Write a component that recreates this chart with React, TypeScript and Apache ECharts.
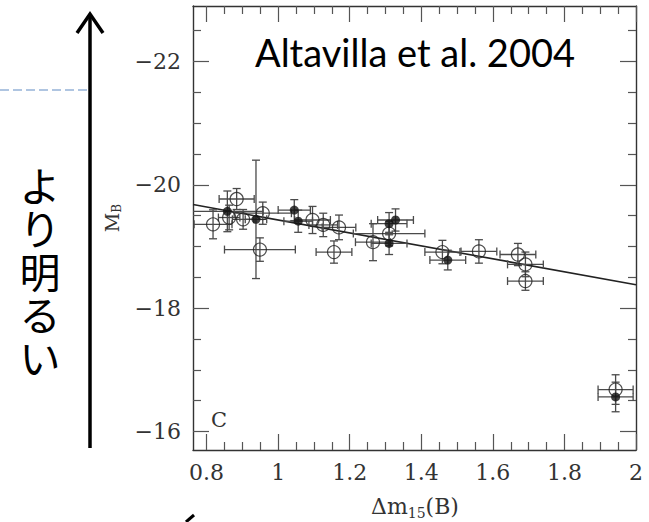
import React, { useEffect, useRef } from "react";
import * as echarts from "echarts";

// ---- data ----
// open circles: Δm15(B), M_B, errors
const openDm15 = [0.818, 0.863, 0.884, 0.902, 0.949, 0.957, 1.096, 1.126, 1.170, 1.156, 1.265, 1.310, 1.459, 1.561, 1.670, 1.691, 1.691, 1.943];
const openMB = [-19.36, -19.47, -19.77, -19.44, -18.95, -19.54, -19.43, -19.35, -19.31, -18.91, -19.07, -19.21, -18.91, -18.92, -18.87, -18.71, -18.44, -16.68];
const openDm15Err = [0.053, 0.03, 0.049, 0.03, 0.099, 0.08, 0.05, 0.04, 0.047, 0.05, 0.049, 0.1, 0.049, 0.05, 0.05, 0.05, 0.05, 0.049];
const openMBErr = [0.235, 0.2, 0.17, 0.16, 0.19, 0.18, 0.22, 0.19, 0.2, 0.18, 0.3, 0.2, 0.19, 0.19, 0.18, 0.2, 0.15, 0.24];

// filled circles
const filledDm15 = [0.858, 0.938, 1.045, 1.056, 1.310, 1.328, 1.310, 1.474, 1.943];
const filledMB = [-19.57, -19.44, -19.59, -19.41, -19.37, -19.43, -19.05, -18.78, -16.56];
const filledDm15Err = [0.1, 0.03, 0.045, 0.04, 0.05, 0.05, 0.05, 0.05, 0.049];
const filledMBErr = [0.33, 0.96, 0.17, 0.18, 0.18, 0.18, 0.18, 0.16, 0.24];

// fitted relation
const fitDm15 = [0.762, 2.0];
const fitMB = [-19.68, -18.38];

// ticks
const xMajor = [0.8, 1, 1.2, 1.4, 1.6, 1.8, 2];
const xMinor = [0.85, 0.9, 0.95, 1.05, 1.1, 1.15, 1.25, 1.3, 1.35, 1.45, 1.5, 1.55, 1.65, 1.7, 1.75, 1.85, 1.9, 1.95];
const yMajor = [-22, -20, -18, -16];
const yMinor = [-22.5, -21.5, -21, -20.5, -19.5, -19, -18.5, -17.5, -17, -16.5];

// side caption, one character per line
const sideChars = ["よ", "り", "明", "る", "い"];

const X_MIN = 0.762, X_MAX = 2.0;
const Y_MIN = -22.9, Y_MAX = -15.7;

const SERIF = "DejaVu Serif";
const TICK = "#555";
const FRAME = "#333";

function errItem(params: any, api: any) {
  const x = api.value(0), y = api.value(1), xe = api.value(2), ye = api.value(3);
  const style = { stroke: "#4a4a4a", lineWidth: 1.3, fill: "none" };
  const c = 4;
  const ch: any[] = [];
  if (xe > 0) {
    const l = api.coord([x - xe, y]);
    const r = api.coord([x + xe, y]);
    ch.push({ type: "line", shape: { x1: l[0], y1: l[1], x2: r[0], y2: r[1] }, style });
    ch.push({ type: "line", shape: { x1: l[0], y1: l[1] - c, x2: l[0], y2: l[1] + c }, style });
    ch.push({ type: "line", shape: { x1: r[0], y1: r[1] - c, x2: r[0], y2: r[1] + c }, style });
  }
  if (ye > 0) {
    const t = api.coord([x, y - ye]);
    const b = api.coord([x, y + ye]);
    ch.push({ type: "line", shape: { x1: t[0], y1: t[1], x2: b[0], y2: b[1] }, style });
    ch.push({ type: "line", shape: { x1: t[0] - c, y1: t[1], x2: t[0] + c, y2: t[1] }, style });
    ch.push({ type: "line", shape: { x1: b[0] - c, y1: b[1], x2: b[0] + c, y2: b[1] }, style });
  }
  return { type: "group", children: ch };
}

function xAx(position: string, values: number[], len: number, labels: boolean, line: boolean) {
  return {
    type: "value",
    position,
    min: X_MIN,
    max: X_MAX,
    axisLine: { show: line, onZero: false, lineStyle: { color: FRAME, width: 1.4 } },
    axisTick: { show: true, inside: true, length: len, customValues: values, lineStyle: { color: TICK, width: 1.2 } },
    axisLabel: labels
      ? {
          show: true,
          customValues: values,
          margin: 11,
          fontFamily: SERIF,
          fontSize: 22,
          color: "#333",
          formatter: (v: number) => String(v),
        }
      : { show: false },
    splitLine: { show: false },
  };
}

function yAx(position: string, values: number[], len: number, labels: boolean, line: boolean) {
  return {
    type: "value",
    position,
    inverse: true,
    min: Y_MIN,
    max: Y_MAX,
    axisLine: { show: line, onZero: false, lineStyle: { color: FRAME, width: 1.4 } },
    axisTick: { show: true, inside: true, length: len, customValues: values, lineStyle: { color: TICK, width: 1.2 } },
    axisLabel: labels
      ? {
          show: true,
          customValues: values,
          margin: 12,
          fontFamily: SERIF,
          fontSize: 22,
          color: "#333",
          formatter: (v: number) => (v < 0 ? "\u2212" + Math.abs(v) : String(v)),
        }
      : { show: false },
    splitLine: { show: false },
  };
}

export default function App() {
  const ref = useRef<HTMLDivElement>(null);
  useEffect(() => {
    if (!ref.current) return;
    const chart = echarts.init(ref.current, null, { renderer: "svg" });
    const openData = openDm15.map((x, i) => [x, openMB[i], openDm15Err[i], openMBErr[i]]);
    const filledData = filledDm15.map((x, i) => [x, filledMB[i], filledDm15Err[i], filledMBErr[i]]);
    const fitData = fitDm15.map((x, i) => [x, fitMB[i]]);
    const sideTexts = sideChars.map((ch, i) => ({
      type: "text",
      x: 40,
      y: 184 + i * 43,
      style: {
        text: ch,
        font: '41px "Noto Sans CJK JP"',
        align: "center",
        verticalAlign: "middle",
        fill: "#000",
      },
    }));
    chart.setOption({
      animation: false,
      backgroundColor: "#ffffff",
      grid: { left: 193, right: 13, top: 6, bottom: 72 },
      xAxis: [
        xAx("bottom", xMajor, 16, true, true),
        xAx("bottom", xMinor, 8, false, false),
        xAx("top", xMajor, 16, false, true),
        xAx("top", xMinor, 8, false, false),
      ],
      yAxis: [
        yAx("left", yMajor, 16, true, true),
        yAx("left", yMinor, 8, false, false),
        yAx("right", yMajor, 16, false, true),
        yAx("right", yMinor, 8, false, false),
      ],
      series: [
        {
          type: "line",
          data: fitData,
          symbol: "none",
          lineStyle: { color: "#222", width: 1.6 },
          z: 2,
        },
        {
          type: "custom",
          renderItem: errItem,
          data: openData,
          encode: { x: 0, y: 1 },
          clip: true,
          z: 3,
        },
        {
          type: "custom",
          renderItem: errItem,
          data: filledData,
          encode: { x: 0, y: 1 },
          clip: true,
          z: 3,
        },
        {
          type: "scatter",
          data: openData.map((d) => [d[0], d[1]]),
          symbol: "circle",
          symbolSize: 13,
          itemStyle: { color: "rgba(0,0,0,0)", borderColor: "#222", borderWidth: 1.2 },
          z: 4,
        },
        {
          type: "scatter",
          data: filledData.map((d) => [d[0], d[1]]),
          symbol: "circle",
          symbolSize: 9,
          itemStyle: { color: "#111" },
          z: 5,
        },
      ],
      graphic: [
        {
          type: "line",
          shape: { x1: 0, y1: 90, x2: 88, y2: 90 },
          style: { stroke: "#95B3D7", lineWidth: 1.5, lineDash: [9, 4] },
        },
        {
          type: "line",
          shape: { x1: 90, y1: 15, x2: 90, y2: 448 },
          style: { stroke: "#000", lineWidth: 3.5 },
        },
        {
          type: "polyline",
          shape: { points: [[77, 33], [90, 14], [103, 33]] },
          style: { stroke: "#000", lineWidth: 3.5, fill: "none" },
        },
        {
          type: "line",
          shape: { x1: 186, y1: 522, x2: 194, y2: 515 },
          style: { stroke: "#000", lineWidth: 3 },
        },
        ...sideTexts,
        {
          type: "text",
          x: 255,
          y: 52,
          style: {
            text: "Altavilla et al. 2004",
            font: "38px Lato",
            align: "left",
            verticalAlign: "middle",
            fill: "#000",
          },
        },
        {
          type: "text",
          x: 211,
          y: 420,
          style: {
            text: "C",
            font: '21px "DejaVu Serif"',
            align: "left",
            verticalAlign: "middle",
            fill: "#333",
          },
        },
        {
          type: "text",
          x: 415,
          y: 506,
          style: {
            text: "\u0394m{sub|15}(B)",
            font: '22px "DejaVu Serif"',
            align: "center",
            verticalAlign: "middle",
            fill: "#333",
            rich: {
              sub: { fontSize: 14, fontFamily: SERIF, verticalAlign: "bottom", padding: [13, 0, 0, 0], fill: "#333" },
            },
          },
        },
        {
          type: "text",
          x: 112,
          y: 218,
          rotation: Math.PI / 2,
          style: {
            text: "M{sub|B}",
            font: '19px "DejaVu Serif"',
            align: "center",
            verticalAlign: "middle",
            fill: "#333",
            rich: {
              sub: { fontSize: 12, fontFamily: SERIF, verticalAlign: "bottom", padding: [10, 0, 0, 0], fill: "#333" },
            },
          },
        },
      ],
    });
    return () => chart.dispose();
  }, []);
  return (
    <div
      ref={ref}
      style={{ position: "fixed", left: 0, top: 0, width: 649, height: 522, background: "#fff" }}
    />
  );
}
